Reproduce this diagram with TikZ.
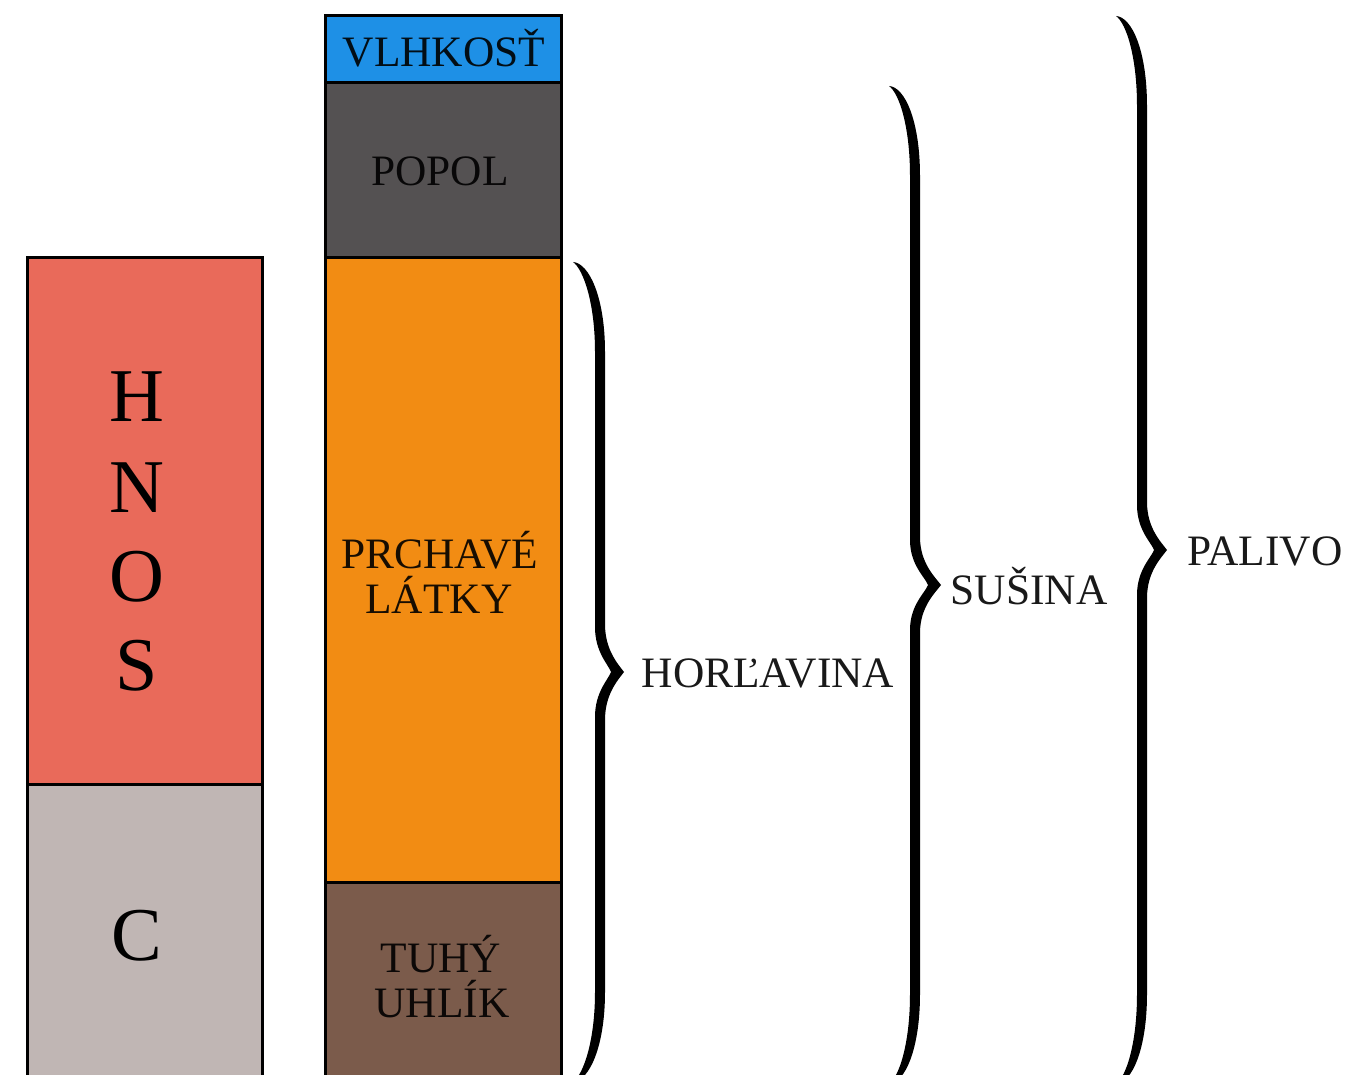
\documentclass[tikz,border=0pt]{standalone}
\usepackage{fontspec}
\setmainfont{Liberation Serif}

\definecolor{hnosred}{RGB}{233,106,90}
\definecolor{carbongrey}{RGB}{192,182,180}
\definecolor{moistblue}{RGB}{30,144,230}
\definecolor{ashgrey}{RGB}{84,81,82}
\definecolor{volorange}{RGB}{242,140,19}
\definecolor{charbrown}{RGB}{123,91,75}

\tikzset{
  layer/.style={draw=black, line width=1.5pt},
  lbl/.style={anchor=base, inner sep=0pt, font=\fontsize{21.7}{22}\selectfont, text=black, text opacity=0.9},
  elem/.style={anchor=base, inner sep=0pt, font=\fontsize{38}{40}\selectfont, text=black},
  bracefill/.style={fill=black},
}

% half stroke width of the braces
\newcommand{\bracehalf}{5}
% right curly brace: #1 x of end tips, #2 y of top tip, #3 x of stem,
% #4 x of middle tip, #5 y of middle tip, #6 y of bottom tip
\newcommand{\fuelbrace}[6]{%
  \fill[bracefill] (#1,#2)
    .. controls ({#1+16},{#2+1}) and ({#3+\bracehalf},{#2+35}) .. ({#3+\bracehalf},{#2+90})
    -- ({#3+\bracehalf},{#5-48})
    .. controls ({#3+\bracehalf},{#5-22}) and ({#4-6},{#5-8}) .. (#4,#5)
    .. controls ({#4-6},{#5+8}) and ({#3+\bracehalf},{#5+22}) .. ({#3+\bracehalf},{#5+48})
    -- ({#3+\bracehalf},{#6-90})
    .. controls ({#3+\bracehalf},{#6-35}) and ({#1+16},{#6-1}) .. (#1,#6)
    .. controls ({#1+10},{#6-7}) and ({#3-\bracehalf},{#6-40}) .. ({#3-\bracehalf},{#6-90})
    -- ({#3-\bracehalf},{#5+45})
    .. controls ({#3-\bracehalf},{#5+20}) and ({#4-16},{#5+8}) .. ({#4-13},#5)
    .. controls ({#4-16},{#5-8}) and ({#3-\bracehalf},{#5-20}) .. ({#3-\bracehalf},{#5-45})
    -- ({#3-\bracehalf},{#2+90})
    .. controls ({#3-\bracehalf},{#2+40}) and ({#1+10},{#2+7}) .. (#1,#2) -- cycle;
}

\begin{document}
\begin{tikzpicture}[x=0.5pt, y=-0.5pt]
  \useasboundingbox (0,0) rectangle (1350,1075);
  \clip (0,0) rectangle (1350,1075);
  \fill[white] (0,0) rectangle (1350,1075);

  % elemental composition column
  \draw[layer, fill=hnosred] (27,258) rectangle (262,784);
  \draw[layer, fill=carbongrey] (27,784) rectangle (262,1110);
  \node[elem] (elH) at (137,422) {H};
  \node[elem] (elN) at (137,512) {N};
  \node[elem] (elO) at (137,601) {O};
  \node[elem] (elS) at (137,690) {S};
  \node[elem] (elC) at (137,960) {C};

  % fuel components column
  \draw[layer, fill=moistblue] (325,16) rectangle (561,83);
  \draw[layer, fill=ashgrey] (325,83) rectangle (561,258);
  \draw[layer, fill=volorange] (325,258) rectangle (561,882);
  \draw[layer, fill=charbrown] (325,882) rectangle (561,1110);
  \node[lbl] (moist) at (444,67) {VLHKOSŤ};
  \node[lbl] (ash) at (440,186) {POPOL};
  \node[lbl] (vol1) at (440,568) {PRCHAVÉ};
  \node[lbl] (vol2) at (439,613) {LÁTKY};
  \node[lbl] (fix1) at (441,972) {TUHÝ};
  \node[lbl] (fix2) at (442,1017) {UHLÍK};

  % grouping braces
  \fuelbrace{573}{262}{600}{624}{672}{1082}
  \fuelbrace{889}{86}{915}{941}{585}{1084}
  \fuelbrace{1116}{16}{1142}{1167}{550}{1084}

  \node[lbl] (comb) at (768,687) {HORĽAVINA};
  \node[lbl] (dry) at (1029,604) {SUŠINA};
  \node[lbl] (fuel) at (1265,565) {PALIVO};
\end{tikzpicture}
\end{document}
